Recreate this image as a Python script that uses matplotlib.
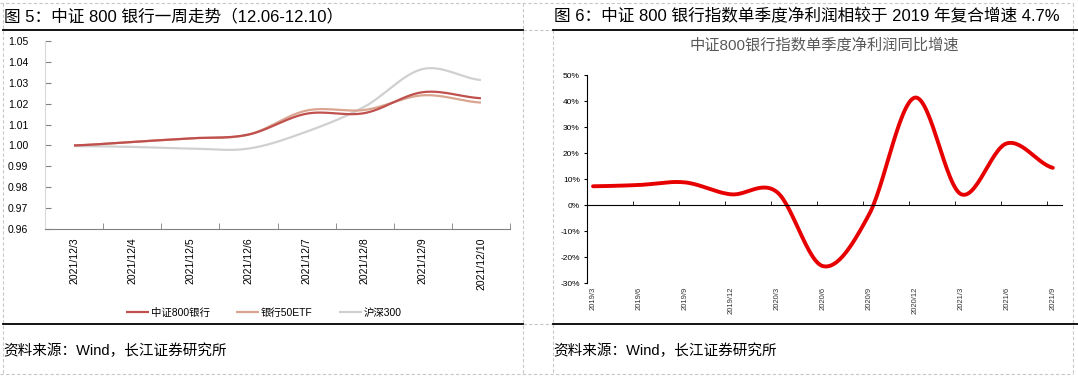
import matplotlib
matplotlib.use("Agg")
import matplotlib.pyplot as plt
from matplotlib.lines import Line2D
import numpy as np

plt.rcParams['font.family'] = ['Liberation Sans', 'Noto Sans CJK SC', 'DejaVu Sans']

# left chart: one week of index values
dates = ['2021/12/3', '2021/12/4', '2021/12/5', '2021/12/6',
         '2021/12/7', '2021/12/8', '2021/12/9', '2021/12/10']
bank800 = [1.000, 1.0017, 1.0034, 1.0052, 1.0152, 1.0155, 1.0255, 1.0226]
bank_etf = [1.000, 1.0017, 1.0034, 1.0052, 1.0167, 1.0170, 1.0240, 1.0205]
hs300 = [0.9997, 0.9993, 0.9985, 0.9985, 1.0066, 1.0186, 1.0366, 1.0313]

# right chart: quarterly net profit growth (%)
quarters = ['2019/3', '2019/6', '2019/9', '2019/12', '2020/3', '2020/6',
            '2020/9', '2020/12', '2021/3', '2021/6', '2021/9']
growth = [7.2, 7.7, 8.7, 4.1, 5.0, -23.5, -3.8, 41.3, 4.2, 23.7, 14.3]

W, H = 1078, 380


def smooth(y, n=30):
    # excel-like smoothed line (uniform catmull-rom)
    y = np.asarray(y, dtype=float)
    x = np.arange(len(y), dtype=float)
    px = np.concatenate([[2 * x[0] - x[1]], x, [2 * x[-1] - x[-2]]])
    py = np.concatenate([[y[0]], y, [y[-1]]])
    xs, ys = [], []
    t = np.linspace(0, 1, n, endpoint=False)
    for i in range(1, len(px) - 2):
        p0, p1, p2, p3 = px[i-1], px[i], px[i+1], px[i+2]
        q0, q1, q2, q3 = py[i-1], py[i], py[i+1], py[i+2]
        for a, b, c, d, out in ((p0, p1, p2, p3, xs), (q0, q1, q2, q3, ys)):
            out.extend(0.5 * (2*b + (-a + c)*t + (2*a - 5*b + 4*c - d)*t**2
                              + (-a + 3*b - 3*c + d)*t**3))
    xs.append(x[-1])
    ys.append(y[-1])
    return np.array(xs), np.array(ys)


def fx(px):
    return px / W


def fy(py):
    return 1 - py / H


fig = plt.figure(figsize=(W / 100, H / 100), dpi=100)


def hline(y, x0, x1, **kw):
    fig.add_artist(Line2D([fx(x0), fx(x1)], [fy(y), fy(y)], **kw))


def vline(x, y0, y1, **kw):
    fig.add_artist(Line2D([fx(x), fx(x)], [fy(y0), fy(y1)], **kw))


dash = dict(color='#c8c8c8', lw=0.8, ls=(0, (3, 2)))
hline(3, 0, 1073, **dash)
hline(374, 0, 1073, **dash)
vline(3, 3, 374, **dash)
vline(523, 3, 374, **dash)
vline(553, 30, 374, **dash)
vline(1073, 3, 374, **dash)
hline(30, 523, 553, **dash)
hline(324, 523, 553, **dash)
solid = dict(color='black', lw=1.3)
hline(30, 3, 523, **solid)
hline(30, 553, 1078, **solid)
hline(324, 3, 523, **solid)
hline(324, 553, 1078, **solid)

fig.text(fx(4), fy(16), '图 5：中证 800 银行一周走势（12.06-12.10）', fontsize=12, va='center')
fig.text(fx(554), fy(16), '图 6：中证 800 银行指数单季度净利润相较于 2019 年复合增速 4.7%',
         fontsize=12, va='center')
fig.text(fx(3), fy(351), '资料来源：Wind，长江证券研究所', fontsize=10.5, va='center')
fig.text(fx(553), fy(351), '资料来源：Wind，长江证券研究所', fontsize=10.5, va='center')

# ---- left chart
ax1 = fig.add_axes([fx(45), fy(229), fx(510 - 45), (229 - 41) / H])
for vals, col, lab in ((hs300, '#d0d0d0', '沪深300'),
                       (bank_etf, '#d9a590', '银行50ETF'),
                       (bank800, '#c0504d', '中证800银行')):
    sx, sy = smooth(vals)
    ax1.plot(sx, sy, color=col, lw=1.6, label=lab, solid_capstyle='butt')
ax1.set_xlim(-0.5, len(dates) - 0.5)
ax1.set_ylim(0.96, 1.05)
ax1.set_yticks(np.arange(0.96, 1.0501, 0.01))
ax1.set_yticklabels(['%.2f' % v for v in np.arange(0.96, 1.0501, 0.01)], fontsize=7.5)
ax1.set_xticks(range(len(dates)))
ax1.set_xticklabels(dates, rotation=90, fontsize=7.5)
ax1.set_xticks(np.arange(-0.5, len(dates), 1), minor=True)
ax1.tick_params(axis='x', which='major', length=0, pad=6)
ax1.tick_params(axis='x', which='minor', length=4, direction='in', color='#808080')
ax1.tick_params(axis='y', length=4, direction='in', color='#808080', pad=12)
for s in ('top', 'right'):
    ax1.spines[s].set_visible(False)
ax1.spines['left'].set_color('#d9d9d9')
ax1.spines['bottom'].set_color('#808080')
h, l = ax1.get_legend_handles_labels()
fig.legend(h[::-1], l[::-1], loc='center', bbox_to_anchor=(fx(264), fy(313)), ncol=3,
           frameon=False, fontsize=7.5, handlelength=2.2, handletextpad=0.2,
           columnspacing=2.5)

# ---- right chart
ax2 = fig.add_axes([fx(586.7), fy(283), fx(1062 - 586.7), (283 - 75) / H])
for s in ('top', 'right'):
    ax2.spines[s].set_visible(False)
ax2.spines['bottom'].set_position(('data', 0))
ax2.spines['bottom'].set_color('black')
ax2.spines['left'].set_color('black')
sx, sy = smooth(growth)
ax2.plot(sx, sy, color='#e60000', lw=2.8, solid_capstyle='round')
ax2.set_xlim(-0.137, 10.2)
ax2.set_ylim(-30, 50)
ax2.set_yticks(range(-30, 51, 10))
ax2.set_yticklabels(['%d%%' % v for v in range(-30, 51, 10)], fontsize=6)
ax2.tick_params(axis='y', length=2, color='black', pad=3)
ax2.set_xticks(np.arange(len(quarters)) - 0.137, minor=True)
ax2.tick_params(axis='x', which='major', length=0, pad=59)
ax2.tick_params(axis='x', which='minor', length=3, direction='in', color='black')
ax2.set_xticks(range(len(quarters)))
ax2.set_xticklabels(quarters, rotation=90, fontsize=5.5, color='#333333')
ax2.set_title('中证800银行指数单季度净利润同比增速', fontsize=11, color='#595959', pad=18)

fig.savefig('out.png', dpi=100)
